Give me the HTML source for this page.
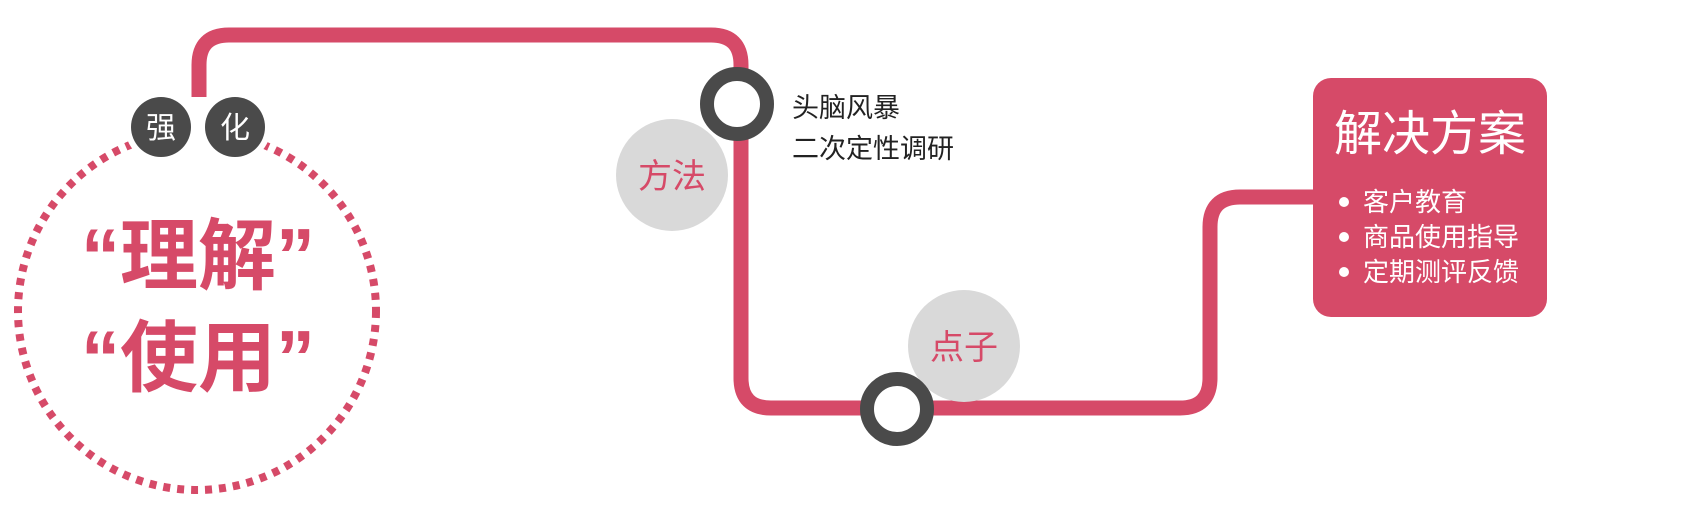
<!DOCTYPE html>
<html><head><meta charset="utf-8"><style>
html,body{margin:0;padding:0;background:#fff;}
body{width:1682px;height:522px;overflow:hidden;}
svg text{font-family:"Liberation Sans","Noto Sans CJK SC",sans-serif;}
</style></head><body>
<svg width="1682" height="522" viewBox="0 0 1682 522" xmlns="http://www.w3.org/2000/svg">
<path d="M199,97 V65 Q199,35 229,35 H711 Q741,35 741,65 V378 Q741,408 771,408 H1180 Q1210,408 1210,378 V227 Q1210,197 1240,197 H1320" fill="none" stroke="#d64a68" stroke-width="15"/>
<circle cx="197" cy="311" r="179" fill="none" stroke="#d64a68" stroke-width="8" stroke-dasharray="7 7"/>
<rect x="180" y="115" width="40" height="30" fill="#fff"/>
<circle cx="161" cy="127" r="36" fill="#fff"/>
<circle cx="235" cy="127" r="36" fill="#fff"/>
<circle cx="161" cy="127" r="30" fill="#4a4a4a"/>
<circle cx="235" cy="127" r="30" fill="#4a4a4a"/>
<text x="161" y="138" font-size="30" fill="#fff" text-anchor="middle">强</text>
<text x="235" y="138" font-size="30" fill="#fff" text-anchor="middle">化</text>
<text x="198" y="283" font-size="78" font-weight="bold" fill="#d64a68" text-anchor="middle">“理解”</text>
<text x="198" y="385" font-size="78" font-weight="bold" fill="#d64a68" text-anchor="middle">“使用”</text>
<circle cx="672" cy="175" r="56" fill="#d9d9d9"/>
<text x="672" y="188" font-size="34" fill="#d64a68" text-anchor="middle">方法</text>
<circle cx="737" cy="104" r="30" fill="#fff" stroke="#4a4a4a" stroke-width="14"/>
<text x="792" y="117" font-size="27" fill="#222">头脑风暴</text>
<text x="792" y="158" font-size="27" fill="#222">二次定性调研</text>
<circle cx="964" cy="346" r="56" fill="#d9d9d9"/>
<text x="964" y="359" font-size="34" fill="#d64a68" text-anchor="middle">点子</text>
<circle cx="897" cy="409" r="30" fill="#fff" stroke="#4a4a4a" stroke-width="14"/>
<rect x="1313" y="78" width="234" height="239" rx="18" fill="#d64a68"/>
<text x="1430" y="150" font-size="48" fill="#fff" text-anchor="middle">解决方案</text>
<g fill="#fff" font-size="26">
<circle cx="1344" cy="202" r="5"/><text x="1363" y="211">客户教育</text>
<circle cx="1344" cy="237" r="5"/><text x="1363" y="246">商品使用指导</text>
<circle cx="1344" cy="272" r="5"/><text x="1363" y="281">定期测评反馈</text>
</g>
</svg>
</body></html>
